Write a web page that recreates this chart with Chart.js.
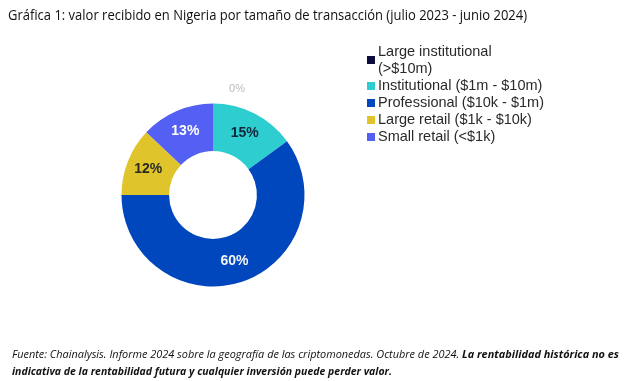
<!DOCTYPE html>
<html>
<head>
<meta charset="utf-8">
<script src="https://cdn.jsdelivr.net/npm/chart.js@4"></script>
<style>
  body { margin: 0; background: #fff; width: 633px; height: 381px; overflow: hidden; position: relative; }
  #wrap { position: absolute; left: 0; top: 0; width: 633px; height: 381px; }
  .fit { position: absolute; white-space: nowrap; transform-origin: left top; color: #111; }
  #title { left: 8px; top: 5px; font: 14.5px "Open Sans", sans-serif; }
  .note { left: 12px; font: italic 11px "Open Sans", sans-serif; color: #111; }
  #note1 { top: 346px; }
  #note2 { top: 363px; }
  #legend { position: absolute; left: 367px; top: 43px; font: 14.5px "Liberation Sans", Arial, sans-serif; color: #2a2a2a; }
  .item { display: flex; align-items: center; line-height: 17px; }
  .box { width: 8px; height: 8px; margin-right: 3px; flex: none; }
</style>
</head>
<body>
<div id="wrap"><canvas id="donut" width="633" height="381"></canvas></div>
<div id="title" class="fit" data-w="519">Gráfica 1: valor recibido en Nigeria por tamaño de transacción (julio 2023 - junio 2024)</div>
<div id="legend"></div>
<div id="note1" class="fit note" data-w="607">Fuente: Chainalysis. Informe 2024 sobre la geografía de las criptomonedas. Octubre de 2024. <b>La rentabilidad histórica no es</b></div>
<div id="note2" class="fit note" data-w="380"><b>indicativa de la rentabilidad futura y cualquier inversión puede perder valor.</b></div>
<script>
const categories = [
  ['Large institutional', '(>$10m)'],
  ['Institutional ($1m - $10m)'],
  ['Professional ($10k - $1m)'],
  ['Large retail ($1k - $10k)'],
  ['Small retail (<$1k)']
];
const shares = [0, 15, 60, 12, 13];
const sliceColors = ['#0b0b3d', '#2ecdd0', '#0046bd', '#dfc52b', '#5460f4'];
const labelColors = ['#bdbdbd', '#142638', '#f4f4f4', '#2a2a20', '#ffffff'];

// stretch the text lines to the width they have in the picture
document.querySelectorAll('.fit').forEach(function(el) {
  const target = parseFloat(el.dataset.w);
  const w = el.getBoundingClientRect().width;
  el.style.transform = 'scaleX(' + (target / w) + ')';
});

const legendEl = document.getElementById('legend');
categories.forEach(function(lines, i) {
  const row = document.createElement('div');
  row.className = 'item';
  const box = document.createElement('span');
  box.className = 'box';
  box.style.background = sliceColors[i];
  const txt = document.createElement('span');
  txt.innerHTML = lines.map(function(s) {
    return s.replace(/&/g, '&amp;').replace(/</g, '&lt;').replace(/>/g, '&gt;');
  }).join('<br>');
  row.appendChild(box);
  row.appendChild(txt);
  legendEl.appendChild(row);
});

const sliceLabels = {
  id: 'sliceLabels',
  afterDatasetsDraw: function(chart) {
    const ctx = chart.ctx;
    const meta = chart.getDatasetMeta(0);
    ctx.save();
    ctx.textAlign = 'center';
    ctx.textBaseline = 'middle';
    meta.data.forEach(function(arc, i) {
      const p = arc.getProps(['x', 'y', 'startAngle', 'endAngle', 'innerRadius', 'outerRadius'], true);
      const mid = (p.startAngle + p.endAngle) / 2;
      let x, y;
      if (shares[i] === 0) {
        ctx.font = '11px "Liberation Sans", Arial, sans-serif';
        x = p.x + 24;
        y = p.y - p.outerRadius - 15;
      } else {
        ctx.font = 'bold 14px "Liberation Sans", Arial, sans-serif';
        const r = (p.innerRadius + p.outerRadius) / 2 + 2;
        x = p.x + Math.cos(mid) * r;
        y = p.y + Math.sin(mid) * r;
      }
      ctx.fillStyle = labelColors[i];
      ctx.fillText(shares[i] + '%', x, y);
    });
    ctx.restore();
  }
};

new Chart(document.getElementById('donut'), {
  type: 'doughnut',
  data: {
    labels: categories.map(function(c) { return c.join(' '); }),
    datasets: [{
      data: shares,
      backgroundColor: sliceColors,
      borderColor: sliceColors,
      borderWidth: [1, 0, 0, 0, 0]
    }]
  },
  options: {
    responsive: false,
    animation: false,
    cutout: '48%',
    layout: { padding: { left: 121, top: 103, right: 328, bottom: 94 } },
    plugins: {
      legend: { display: false },
      tooltip: { enabled: false }
    }
  },
  plugins: [sliceLabels]
});
</script>
</body>
</html>
